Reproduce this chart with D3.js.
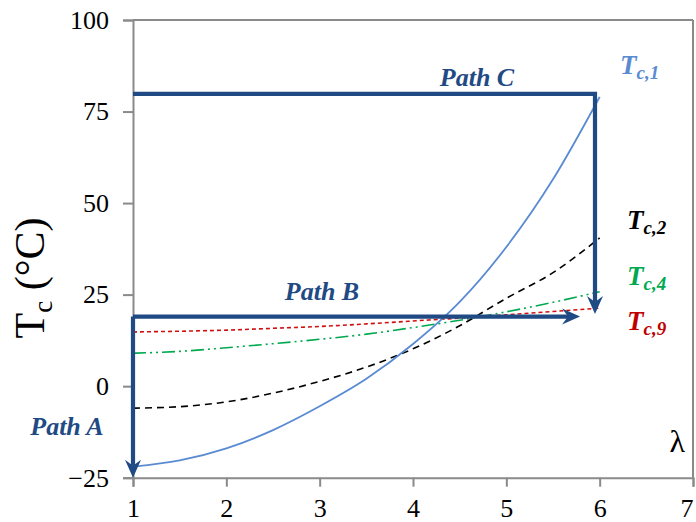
<!DOCTYPE html>
<html>
<head>
<meta charset="utf-8">
<script src="https://cdn.jsdelivr.net/npm/d3@7/dist/d3.min.js"></script>
<style>
  html, body { margin: 0; padding: 0; background: #fff; }
  svg { display: block; }
  svg text { font-family: "Liberation Serif", "Times New Roman", Times, Tinos, "Noto Serif", "DejaVu Serif", FreeSerif, serif; }
</style>
</head>
<body>
<div id="chart"></div>
<script>
// ---- data ----
const lambda = [1, 1.5, 2, 2.5, 3, 3.5, 4, 4.5, 5, 5.5, 6];
const tc1 = [-22, -20.3, -17, -12, -5.5, 2, 11.5, 23, 38, 56.5, 79];
const tc2 = [-6, -5.6, -4.3, -1.9, 1.3, 5.2, 10.2, 16.5, 24, 31, 40.5];
const tc4 = [9, 9.5, 10.5, 11.6, 12.8, 14.2, 16, 18, 20.3, 22.9, 25.8];
const tc9 = [14.8, 15, 15.3, 15.8, 16.3, 17, 17.8, 18.6, 19.5, 20.4, 21.3];
const xTicks = [1, 2, 3, 4, 5, 6, 7];
const yTicks = [-25, 0, 25, 50, 75, 100];
const pathA = [[1, 19], [1, -25]];
const pathB = [[1, 19], [5.79, 19]];
const pathC = [[1, 79.8], [5.95, 79.8], [5.95, 19.7]];
const seriesNames = ["1", "2", "4", "9"];

const W = 696, H = 522;
const svg = d3.select("#chart").append("svg").attr("width", W).attr("height", H);

const x = d3.scaleLinear().domain([1, 7]).range([133, 693]);
const y = d3.scaleLinear().domain([-25, 100]).range([477.7, 20]);

const axisColor = "#8a8a8a";
const pathColor = "#1f4a84";

// frame (top and right)
svg.append("line").attr("x1", x(1)).attr("x2", x(7)).attr("y1", y(100)).attr("y2", y(100))
  .attr("stroke", axisColor).attr("stroke-width", 2);
svg.append("line").attr("x1", x(7)).attr("x2", x(7)).attr("y1", y(100)).attr("y2", y(-25))
  .attr("stroke", axisColor).attr("stroke-width", 2);

// axes
const yAxis = d3.axisLeft(y).tickValues(yTicks).tickSize(10).tickPadding(14).tickFormat(d3.format("d"));
const gy = svg.append("g").attr("transform", `translate(${x(1)},0)`).call(yAxis);
const xAxis = d3.axisBottom(x).tickValues(xTicks).tickSize(9).tickPadding(12).tickFormat(d3.format("d"));
const gx = svg.append("g").attr("transform", `translate(0,${y(-25)})`).call(xAxis);
[gx, gy].forEach(g => {
  g.attr("font-family", null).attr("font-size", null);
  g.select(".domain").attr("stroke", axisColor).attr("stroke-width", 2);
  g.selectAll(".tick line").attr("stroke", axisColor).attr("stroke-width", 2);
  g.selectAll(".tick text").attr("fill", "#000").style("font-size", "26px");
});
// keep the last x label inside the window
gx.selectAll(".tick text").filter(d => d === xTicks[xTicks.length - 1])
  .attr("text-anchor", "end").attr("dx", 0);

// y title
const yt = svg.append("text")
  .attr("transform", `translate(44,278) rotate(-90)`)
  .attr("text-anchor", "middle")
  .style("font-size", "42px").attr("fill", "#000");
yt.append("tspan").text("T");
yt.append("tspan").style("font-size", "27px").attr("dy", 8).text("c");
yt.append("tspan").attr("dy", -8).text(" (°C)");

// series
const line = d3.line().x((d, i) => x(lambda[i])).y(d => y(d)).curve(d3.curveMonotoneX);
const series = [
  { v: tc9, color: "#d01010", dash: "4,3", w: 1.6 },
  { v: tc4, color: "#00a84f", dash: "13,4,2,4,2,4", w: 1.6 },
  { v: tc2, color: "#000000", dash: "7,5", w: 1.6 },
  { v: tc1, color: "#5a8bd2", dash: null, w: 1.8 }
];
series.forEach(s => {
  svg.append("path").attr("d", line(s.v)).attr("fill", "none")
    .attr("stroke", s.color).attr("stroke-width", s.w)
    .attr("stroke-dasharray", s.dash);
});

// arrows (paths)
function drawArrow(pts) {
  const P = pts.map(p => [x(p[0]), y(p[1])]);
  const n = P.length;
  const [x0, y0] = P[n - 2], [x1, y1] = P[n - 1];
  const len = Math.hypot(x1 - x0, y1 - y0);
  const ux = (x1 - x0) / len, uy = (y1 - y0) / len;
  const px = -uy, py = ux;
  const L = 18, Hw = 8, notch = 6;
  const lineEnd = [x1 - ux * (L - notch), y1 - uy * (L - notch)];
  const linePts = P.slice(0, n - 1).concat([lineEnd]);
  svg.append("path").attr("d", d3.line()(linePts)).attr("fill", "none")
    .attr("stroke", pathColor).attr("stroke-width", 4.2).attr("stroke-linejoin", "miter");
  const head = [
    [x1, y1],
    [x1 - ux * L + px * Hw, y1 - uy * L + py * Hw],
    [x1 - ux * (L - notch), y1 - uy * (L - notch)],
    [x1 - ux * L - px * Hw, y1 - uy * L - py * Hw]
  ];
  svg.append("path").attr("d", d3.line()(head) + "Z").attr("fill", pathColor);
}
drawArrow(pathA);
drawArrow(pathB);
drawArrow(pathC);

// path labels
const pathLabels = [
  { t: "Path C", x: 477, y: 86 },
  { t: "Path B", x: 322, y: 300 },
  { t: "Path A", x: 67, y: 435 }
];
pathLabels.forEach(p => {
  svg.append("text").attr("x", p.x).attr("y", p.y).attr("text-anchor", "middle")
    .style("font-weight", "bold").style("font-style", "italic")
    .style("font-size", "26px").attr("fill", pathColor).text(p.t);
});

// series labels
const seriesLabels = [
  { n: seriesNames[0], color: "#5a8bd2", x: 620, y: 74 },
  { n: seriesNames[1], color: "#000000", x: 627, y: 229 },
  { n: seriesNames[2], color: "#00a84f", x: 627, y: 285 },
  { n: seriesNames[3], color: "#c00000", x: 627, y: 330 }
];
seriesLabels.forEach(s => {
  const t = svg.append("text").attr("x", s.x).attr("y", s.y)
    .style("font-weight", "bold").style("font-style", "italic")
    .style("font-size", "27px").attr("fill", s.color);
  t.append("tspan").text("T");
  t.append("tspan").style("font-size", "19px").attr("dy", 5).text("c," + s.n);
});

// lambda label
svg.append("text").attr("x", 685).attr("y", 452).attr("text-anchor", "end")
  .style("font-size", "32px").attr("fill", "#000").text("λ");
</script>
</body>
</html>
